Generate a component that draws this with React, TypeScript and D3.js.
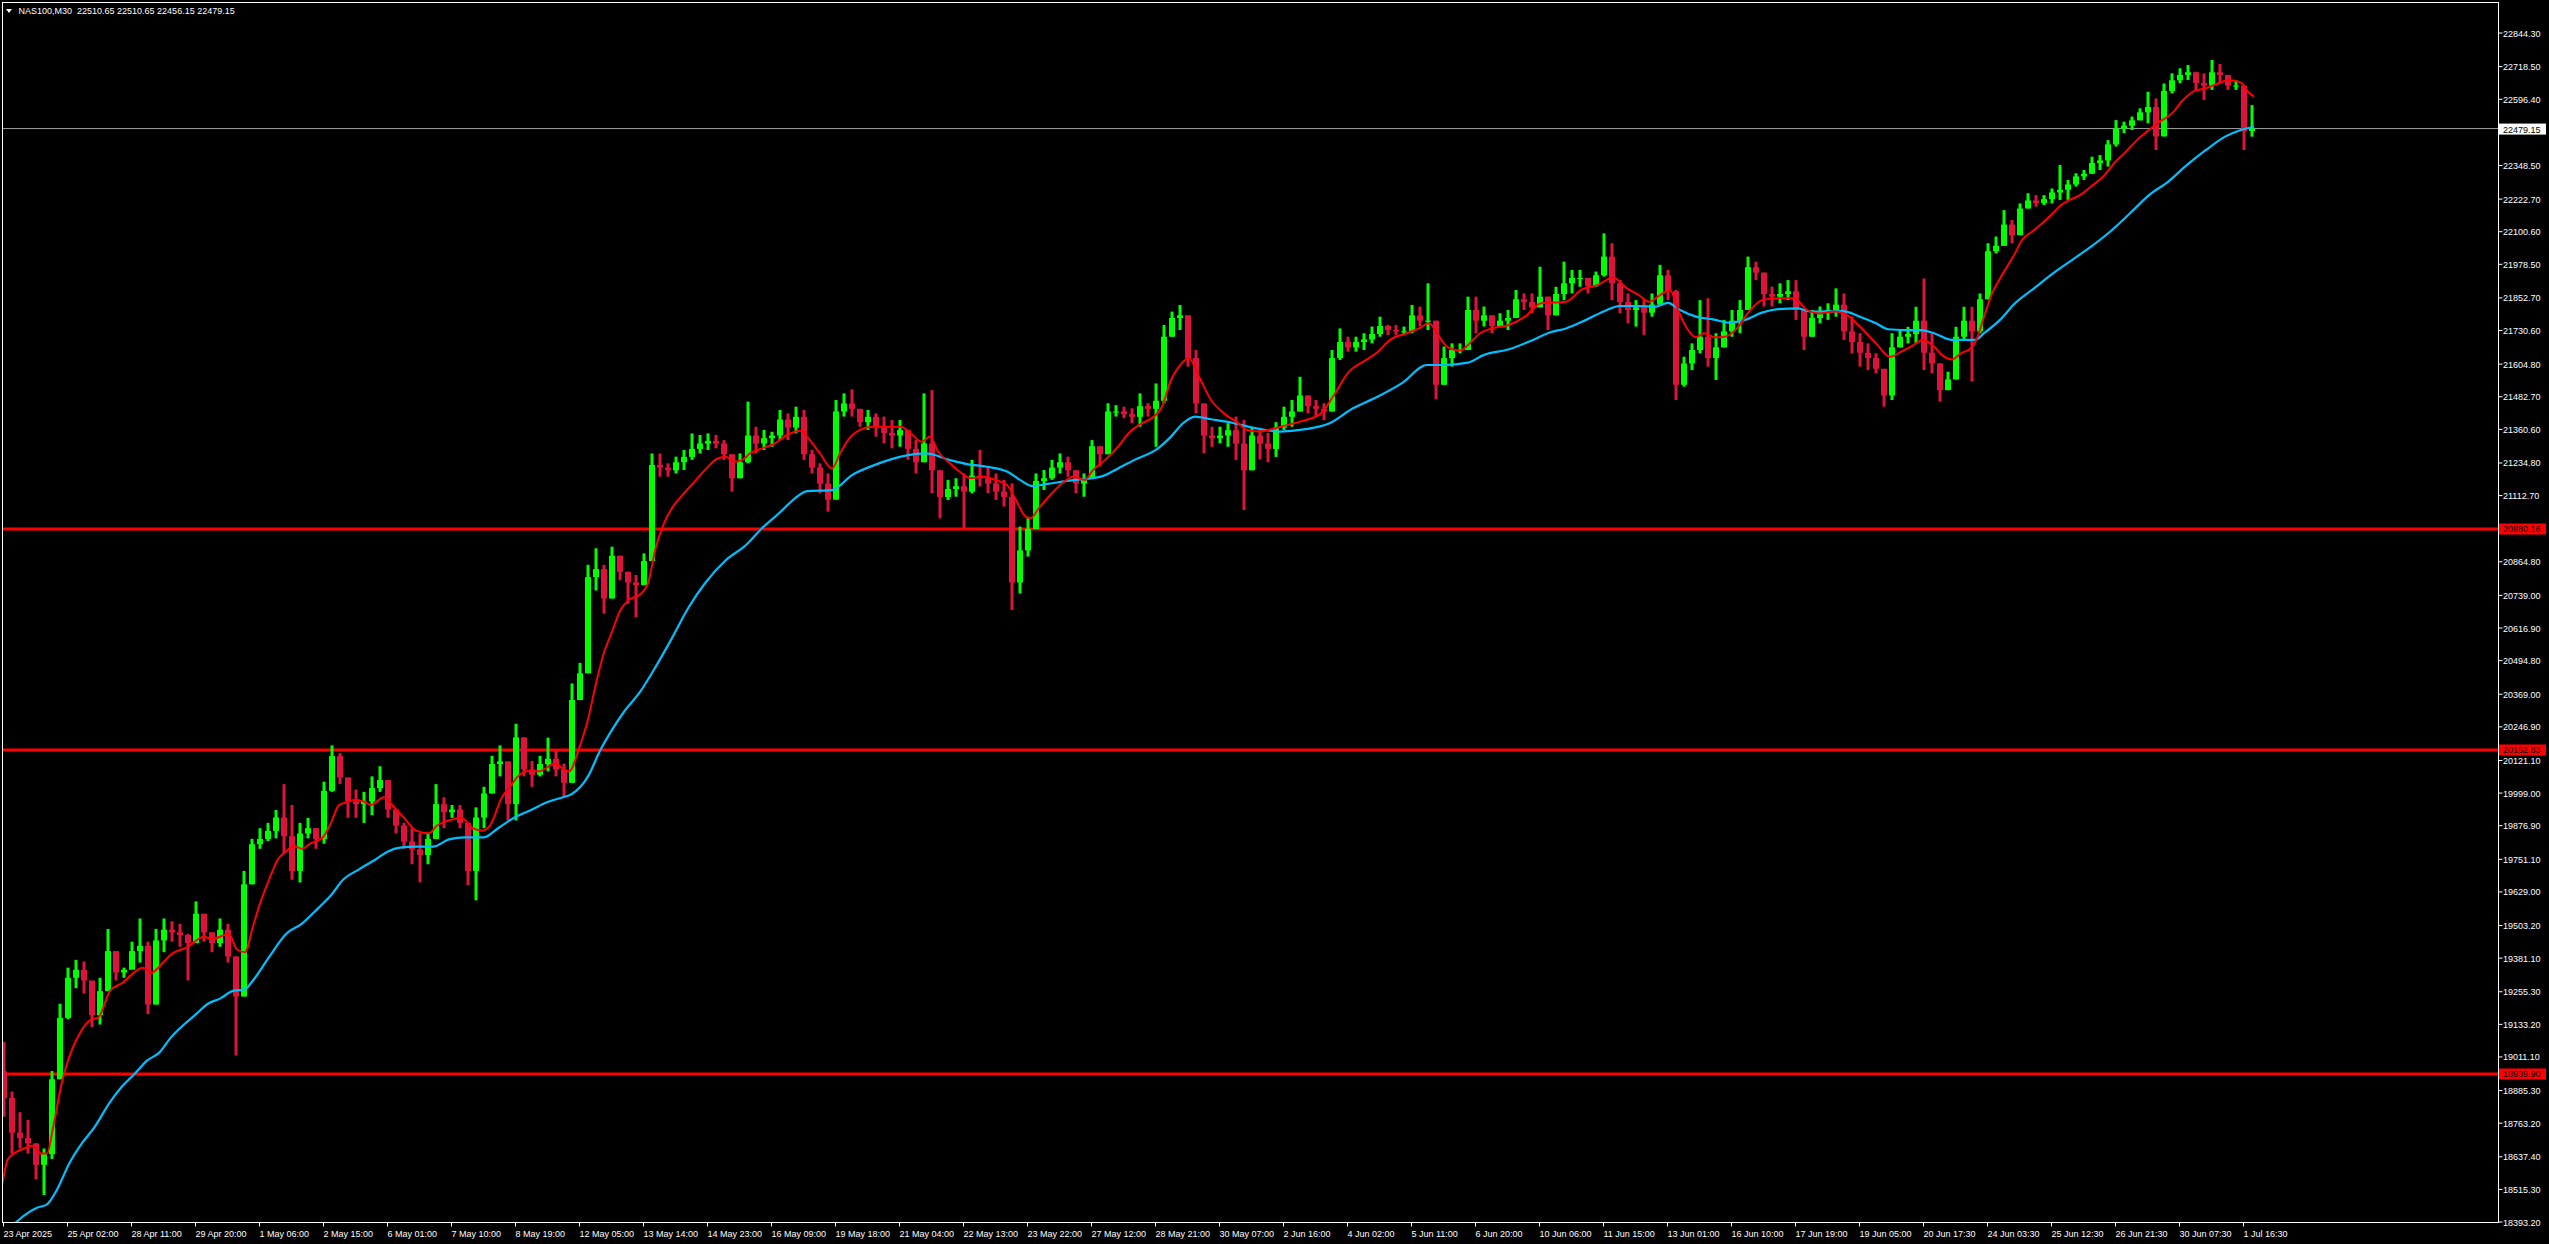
import React, { useEffect } from 'react';
import * as d3 from 'd3';

const W = 2549;
const H = 1244;

// Each candle aggregates 8 consecutive M30 bars (1 bar = 1 px in the reference)
const BARS_PER_CANDLE = 8;
const firstOpen = 18950;

const highs = [19060,18874,18797,18768,18680,18661,18951,19203,19338,19367,
19361,19280,19300,19483,19377,19338,19435,19522,19435,19483,
19522,19512,19502,19464,19586,19532,19470,19522,19502,19380,
19700,19820,19860,19880,19928,20025,19947,19880,19899,19860,
20034,20170,20141,20050,20005,19996,20054,20092,20040,19930,
19880,19860,19841,19841,20025,19976,19947,19947,19880,19938,
20015,20131,20170,20110,20251,20200,20112,20131,20199,20150,
20102,20402,20479,20846,20908,20846,20914,20880,20820,20808,
20889,21263,21263,21226,21251,21276,21338,21332,21338,21332,
21313,21260,21263,21457,21363,21351,21344,21426,21413,21438,
21426,21276,21226,21188,21463,21488,21503,21430,21426,21413,
21401,21388,21388,21350,21313,21488,21500,21200,21164,21170,
21188,21239,21276,21214,21188,21164,21151,20989,21026,21188,
21201,21239,21263,21251,21200,21188,21313,21290,21451,21444,
21438,21432,21488,21451,21525,21744,21794,21819,21780,21650,
21450,21363,21363,21376,21401,21388,21363,21350,21340,21380,
21438,21463,21550,21480,21463,21451,21650,21731,21700,21700,
21713,21738,21775,21744,21744,21738,21819,21813,21900,21760,
21663,21675,21675,21850,21850,21813,21780,21788,21800,21875,
21862,21862,21962,21850,21887,21981,21950,21950,21920,21944,
22087,22050,21912,21862,21837,21837,21862,21969,21950,21875,
21625,21675,21837,21844,21713,21763,21800,21837,22000,21981,
21940,21887,21900,21912,21912,21800,21800,21813,21825,21881,
21862,21775,21713,21675,21638,21580,21713,21725,21737,21812,
21918,21713,21600,21569,21737,21812,21812,21862,22050,22075,
22174,22137,22199,22237,22230,22230,22255,22343,22287,22312,
22324,22374,22380,22436,22511,22505,22524,22555,22617,22592,
22648,22686,22705,22717,22692,22686,22736,22721,22680,22661,
22640,22567];

const lows = [18780,18642,18661,18642,18545,18487,18622,18932,19145,19261,
19241,19116,19125,19300,19290,19300,19338,19357,19164,19200,
19396,19435,19416,19290,19430,19435,19396,19416,19357,19009,
19230,19650,19783,19812,19822,19763,19667,19657,19822,19783,
19802,19996,20025,19899,19899,19880,19909,19996,19899,19841,
19783,19725,19657,19725,19820,19860,19899,19860,19647,19590,
19860,19990,20054,19889,19889,20054,20015,20054,20073,20054,
19976,20030,20340,20440,20750,20663,20720,20788,20700,20650,
20770,20860,21176,21176,21188,21201,21239,21263,21276,21282,
21239,21120,21170,21226,21263,21276,21288,21313,21313,21338,
21239,21188,21114,21045,21090,21401,21401,21363,21351,21326,
21301,21282,21288,21239,21188,21230,21114,21020,21089,21101,
20983,21114,21139,21114,21089,21064,20677,20739,20877,20980,
21126,21164,21188,21176,21114,21101,21170,21214,21260,21401,
21395,21376,21363,21401,21288,21451,21700,21725,21588,21413,
21263,21288,21301,21288,21239,21051,21200,21240,21230,21250,
21351,21363,21420,21413,21401,21388,21420,21613,21644,21644,
21650,21675,21700,21707,21707,21707,21713,21738,21725,21466,
21520,21588,21638,21650,21713,21738,21713,21738,21725,21770,
21800,21788,21810,21725,21780,21837,21862,21887,21862,21887,
21925,21837,21788,21750,21738,21707,21775,21820,21837,21463,
21513,21575,21638,21588,21538,21660,21700,21713,21800,21912,
21813,21813,21825,21837,21763,21650,21700,21750,21763,21775,
21688,21638,21588,21575,21563,21438,21463,21660,21675,21675,
21575,21563,21457,21500,21540,21688,21532,21713,21840,22012,
22040,22050,22080,22180,22187,22193,22199,22212,22212,22262,
22287,22310,22324,22337,22412,22462,22474,22510,22499,22399,
22450,22611,22649,22661,22624,22586,22624,22649,22624,22624,
22399,22449];

const closes = [18850,18720,18700,18680,18600,18640,18920,19150,19300,19330,
19290,19160,19250,19400,19320,19330,19400,19420,19200,19440,
19480,19470,19460,19430,19540,19470,19430,19480,19380,19230,
19650,19800,19820,19850,19900,19830,19700,19840,19860,19820,
20000,20130,20050,19960,19950,19960,20010,20040,19930,19870,
19810,19780,19760,19820,19950,19920,19930,19880,19700,19900,
19990,20100,20110,19950,20200,20080,20060,20100,20120,20080,
20030,20340,20440,20800,20830,20720,20880,20820,20780,20770,
20860,21220,21210,21200,21230,21250,21280,21300,21310,21300,
21260,21170,21230,21330,21300,21320,21330,21390,21360,21400,
21260,21210,21150,21090,21420,21450,21430,21380,21400,21360,
21340,21330,21350,21280,21230,21300,21200,21100,21130,21140,
21120,21180,21170,21150,21120,21100,20780,20900,20980,21160,
21170,21210,21230,21200,21150,21170,21290,21260,21420,21420,
21410,21400,21440,21430,21460,21700,21770,21780,21620,21450,
21330,21320,21330,21350,21300,21200,21330,21300,21280,21360,
21400,21420,21480,21440,21430,21420,21620,21680,21660,21680,
21690,21710,21740,21725,21720,21720,21780,21760,21760,21520,
21620,21650,21650,21800,21760,21780,21740,21760,21770,21840,
21830,21810,21850,21780,21860,21900,21920,21920,21890,21930,
22000,21900,21830,21800,21810,21790,21820,21930,21870,21520,
21600,21650,21700,21620,21660,21720,21760,21800,21960,21940,
21860,21850,21860,21870,21800,21700,21770,21790,21800,21820,
21720,21680,21640,21620,21580,21480,21660,21700,21710,21760,
21640,21600,21500,21540,21700,21760,21720,21840,22020,22040,
22120,22080,22180,22210,22200,22215,22240,22250,22270,22300,
22310,22350,22360,22420,22480,22490,22510,22540,22560,22450,
22620,22660,22680,22690,22650,22640,22690,22680,22640,22640,
22470,22479.15];

// Moving averages: [bar index, price]
const redMA: [number, number][] = [[0,18500],[2,18526],[8,18622],[24,18661],[33,18671],[41,18642],[47,18642],[53,18738],[61,18893],[82,19106],[92,19145],[98,19150],[110,19251],[122,19280],[143,19338],[151,19318],[163,19357],[171,19387],[188,19416],[204,19454],[212,19445],[229,19464],[237,19406],[245,19396],[253,19493],[261,19589],[269,19667],[278,19744],[286,19773],[294,19793],[302,19783],[310,19802],[322,19822],[331,19880],[339,19947],[347,19957],[355,19967],[363,19961],[371,19947],[384,19976],[392,19947],[404,19899],[416,19851],[429,19841],[437,19870],[449,19889],[461,19899],[473,19860],[482,19851],[490,19870],[502,19976],[510,20015],[518,20054],[527,20073],[539,20073],[555,20102],[563,20083],[569,20073],[580,20170],[588,20267],[596,20402],[604,20518],[612,20595],[620,20673],[629,20715],[640,20735],[648,20777],[656,20914],[664,21001],[673,21064],[681,21101],[693,21151],[705,21201],[718,21245],[726,21251],[734,21232],[742,21238],[750,21263],[762,21282],[775,21301],[787,21332],[801,21348],[807,21326],[820,21263],[832,21207],[840,21263],[848,21313],[860,21351],[873,21363],[901,21363],[909,21344],[922,21307],[930,21326],[938,21270],[950,21226],[962,21188],[971,21170],[983,21176],[995,21164],[1007,21145],[1016,21089],[1024,21033],[1030,21020],[1040,21064],[1052,21114],[1064,21157],[1073,21176],[1085,21164],[1093,21201],[1105,21238],[1118,21288],[1130,21344],[1142,21376],[1154,21401],[1162,21438],[1171,21538],[1179,21588],[1189,21619],[1199,21550],[1211,21463],[1224,21413],[1236,21382],[1248,21350],[1260,21345],[1273,21355],[1288,21370],[1300,21382],[1321,21413],[1333,21476],[1349,21569],[1366,21613],[1378,21644],[1390,21688],[1407,21713],[1419,21731],[1429,21750],[1437,21713],[1447,21663],[1460,21648],[1468,21669],[1480,21713],[1492,21731],[1509,21744],[1525,21775],[1541,21825],[1566,21831],[1582,21877],[1598,21894],[1613,21922],[1627,21881],[1639,21856],[1649,21831],[1660,21856],[1670,21875],[1678,21800],[1688,21725],[1696,21698],[1704,21713],[1715,21698],[1725,21700],[1737,21731],[1749,21794],[1762,21837],[1778,21844],[1794,21844],[1807,21800],[1819,21787],[1835,21794],[1847,21781],[1860,21737],[1876,21675],[1890,21625],[1904,21650],[1911,21663],[1923,21688],[1934,21663],[1942,21631],[1952,21615],[1961,21638],[1971,21657],[1977,21694],[1984,21775],[1992,21862],[2000,21918],[2007,21962],[2015,22012],[2022,22062],[2032,22093],[2042,22124],[2053,22162],[2061,22193],[2068,22209],[2080,22230],[2091,22262],[2103,22299],[2114,22349],[2126,22393],[2137,22436],[2149,22474],[2160,22505],[2172,22536],[2183,22586],[2195,22621],[2206,22630],[2218,22648],[2229,22661],[2241,22651],[2248,22617],[2254,22599]];

const blueMA: [number, number][] = [[0,18330],[12,18371],[24,18410],[37,18439],[47,18452],[57,18507],[69,18603],[82,18681],[94,18738],[110,18835],[122,18893],[135,18942],[147,18990],[159,19019],[171,19077],[184,19125],[196,19164],[208,19203],[220,19222],[233,19251],[245,19257],[253,19290],[269,19377],[286,19464],[302,19503],[318,19560],[331,19609],[343,19667],[359,19706],[376,19744],[388,19773],[400,19787],[416,19791],[433,19791],[449,19818],[465,19826],[484,19826],[498,19860],[514,19899],[531,19928],[547,19957],[563,19976],[571,19986],[588,20054],[600,20150],[612,20228],[624,20296],[640,20370],[655,20460],[671,20565],[689,20689],[705,20777],[726,20864],[746,20920],[762,20983],[779,21039],[795,21095],[807,21122],[832,21126],[852,21182],[877,21223],[901,21251],[926,21263],[950,21238],[967,21223],[987,21213],[1007,21195],[1020,21164],[1032,21141],[1048,21149],[1069,21161],[1101,21176],[1118,21207],[1134,21238],[1158,21282],[1171,21326],[1183,21376],[1195,21401],[1211,21391],[1232,21378],[1252,21360],[1280,21345],[1304,21353],[1329,21375],[1353,21432],[1378,21476],[1402,21526],[1427,21594],[1443,21594],[1468,21603],[1484,21632],[1509,21653],[1533,21688],[1549,21715],[1566,21731],[1586,21763],[1607,21800],[1619,21815],[1639,21815],[1655,21812],[1668,21827],[1680,21800],[1696,21775],[1713,21765],[1729,21753],[1745,21763],[1762,21790],[1778,21803],[1798,21806],[1811,21794],[1843,21796],[1860,21775],[1876,21750],[1888,21728],[1904,21725],[1921,21725],[1934,21713],[1952,21688],[1975,21688],[1984,21713],[2000,21763],[2015,21825],[2034,21881],[2053,21937],[2072,21987],[2091,22037],[2110,22093],[2130,22162],[2149,22230],[2168,22280],[2187,22343],[2206,22399],[2225,22449],[2241,22474],[2254,22486]];

const levels = [20980.16, 20152.83, 18939.90];
const lastPrice = 22479.15;

const priceTicks = [22844.30,22718.50,22596.40,22348.50,22222.70,22100.60,21978.50,21852.70,21730.60,21604.80,21482.70,21360.60,21234.80,21112.70,20864.80,20739.00,20616.90,20494.80,20369.00,20246.90,20121.10,19999.00,19876.90,19751.10,19629.00,19503.20,19381.10,19255.30,19133.20,19011.10,18885.30,18763.20,18637.40,18515.30,18393.20];

const timeLabels = ['23 Apr 2025','25 Apr 02:00','28 Apr 11:00','29 Apr 20:00','1 May 06:00','2 May 15:00','6 May 01:00','7 May 10:00','8 May 19:00','12 May 05:00','13 May 14:00','14 May 23:00','16 May 09:00','19 May 18:00','21 May 04:00','22 May 13:00','23 May 22:00','27 May 12:00','28 May 21:00','30 May 07:00','2 Jun 16:00','4 Jun 02:00','5 Jun 11:00','6 Jun 20:00','10 Jun 06:00','11 Jun 15:00','13 Jun 01:00','16 Jun 10:00','17 Jun 19:00','19 Jun 05:00','20 Jun 17:30','24 Jun 03:30','25 Jun 12:30','26 Jun 21:30','30 Jun 07:30','1 Jul 16:30'];
const timeLabelStartBar = 3;
const barsPerTimeLabel = 64;

const headerText = 'NAS100,M30  22510.65 22510.65 22456.15 22479.15';

const FONT = "Tahoma, 'Liberation Sans', Arial, sans-serif";
const BULL = '#00ff00';
const BEAR = '#dc143c';

export default function App() {
  useEffect(() => {
    document.body.style.margin = '0';
    document.body.style.background = '#000';
  }, []);

  const plot = { left: 2.5, top: 2.5, right: 2498.5, bottom: 1222.5 };

  // 1 bar per pixel
  const x = d3.scaleLinear().domain([0, 2496]).range([0, 2496]);
  const y = d3.scaleLinear().domain([18385.8, 22953.0]).range([1222, 2]);

  const candles = closes.map((c, i) => {
    const o = i === 0 ? firstOpen : closes[i - 1];
    return { i, o, h: highs[i], l: lows[i], c };
  });

  const line = d3.line<[number, number]>()
    .x(d => x(d[0]))
    .y(d => y(d[1]))
    .curve(d3.curveMonotoneX);

  return (
    <svg width={W} height={H} style={{ display: 'block', background: '#000' }}
      fontFamily={FONT}>
      <defs>
        <clipPath id="plotClip">
          <rect x={plot.left + 0.5} y={plot.top + 0.5} width={plot.right - plot.left - 1} height={plot.bottom - plot.top - 1} />
        </clipPath>
      </defs>
      <rect x={0} y={0} width={W} height={H} fill="#000" />

      {/* horizontal levels */}
      {levels.map(v => (
        <line key={v} x1={plot.left} x2={plot.right} y1={y(v)} y2={y(v)} stroke="#ff0000" strokeWidth={3} />
      ))}
      {/* last price line */}
      <line x1={plot.left} x2={plot.right} y1={y(lastPrice)} y2={y(lastPrice)} stroke="#a0a0a0" strokeWidth={1} />

      <g clipPath="url(#plotClip)">
        {candles.map(d => {
          const x0 = x(d.i * BARS_PER_CANDLE);
          const up = d.c >= d.o;
          const col = up ? BULL : BEAR;
          const top = y(Math.max(d.o, d.c));
          const bot = y(Math.min(d.o, d.c));
          return (
            <g key={d.i}>
              <rect x={x0 + 2.5} width={3} y={y(d.h)} height={Math.max(1, y(d.l) - y(d.h))} fill={col} />
              <rect x={x0 + 1} width={6} y={top} height={Math.max(1, bot - top)} fill={col} />
            </g>
          );
        })}
        <path d={line(blueMA) || ''} fill="none" stroke="#00bfff" strokeWidth={2.2} />
        <path d={line(redMA) || ''} fill="none" stroke="#ff0000" strokeWidth={2} />
      </g>

      {/* frame */}
      <rect x={plot.left} y={plot.top} width={plot.right - plot.left} height={plot.bottom - plot.top}
        fill="none" stroke="#fff" strokeWidth={1} />

      {/* right price axis */}
      {priceTicks.map(v => (
        <g key={v}>
          <line x1={plot.right} x2={plot.right + 4} y1={y(v) + 2} y2={y(v) + 2} stroke="#fff" strokeWidth={1} />
          <text x={plot.right + 4.5} y={y(v) + 5.5} fill="#fff" fontSize={9}>{v.toFixed(2)}</text>
        </g>
      ))}
      {levels.map(v => (
        <g key={'lab' + v}>
          <rect x={plot.right + 0.5} y={y(v) - 5.5} width={47} height={11} fill="#ff0000" />
          <text x={plot.right + 4.5} y={y(v) + 3.5} fill="#000" fontSize={9}>{v.toFixed(2)}</text>
        </g>
      ))}
      <rect x={plot.right + 0.5} y={y(lastPrice) - 5} width={47} height={11} fill="#fff" />
      <text x={plot.right + 4.5} y={y(lastPrice) + 4} fill="#000" fontSize={9}>{lastPrice.toFixed(2)}</text>

      {/* bottom time axis */}
      {timeLabels.map((t, k) => {
        const xx = x(timeLabelStartBar + k * barsPerTimeLabel) + 0.5;
        return (
          <g key={t}>
            <line x1={xx} x2={xx} y1={plot.bottom} y2={plot.bottom + 4} stroke="#fff" strokeWidth={1} />
            <text x={xx} y={1237} fill="#fff" fontSize={9}>{t}</text>
          </g>
        );
      })}

      {/* header */}
      <polygon points="6,9 12,9 9,13" fill="#fff" />
      <text x={18.5} y={13.5} fill="#fff" fontSize={9} style={{ whiteSpace: 'pre' }}>{headerText}</text>
    </svg>
  );
}
